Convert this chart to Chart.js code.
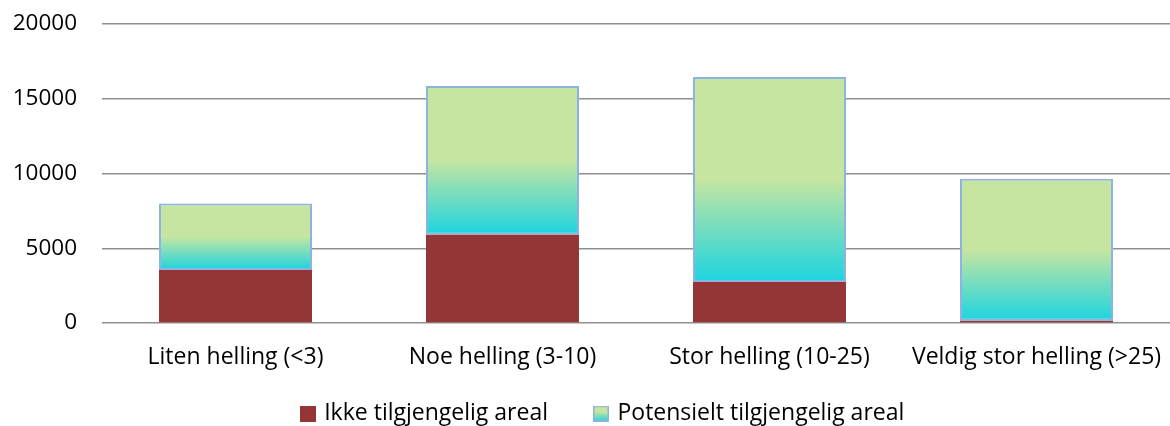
<!DOCTYPE html>
<html><head><meta charset="utf-8">
<script src="https://cdn.jsdelivr.net/npm/chart.js@4/dist/chart.umd.min.js"></script>
<style>html,body{margin:0;padding:0;background:#fff;}#wrap{width:1170px;height:426px;}</style>
</head><body><div id="wrap"><canvas id="c" width="1170" height="426"></canvas></div>
<script>
const categories = ["Liten helling (<3)", "Noe helling (3-10)", "Stor helling (10-25)", "Veldig stor helling (>25)"];
const ikkeTilgjengelig = [3550, 5900, 2750, 150];
const potensieltTilgjengelig = [4450, 9950, 13700, 9500];
const seriesNames = ["Ikke tilgjengelig areal", "Potensielt tilgjengelig areal"];
const yTicks = [0, 5000, 10000, 15000, 20000];

const RED = '#943635', CYAN = '#1dd4e0', GREEN = '#c5e5a1', BLUE = '#8db3e2';
const FONT = 'Open Sans';

function makeBox(kind) {
  const cv = document.createElement('canvas');
  cv.width = 16; cv.height = 16;
  const c = cv.getContext('2d');
  if (kind === 0) { c.fillStyle = RED; c.fillRect(0,0,16,16); }
  else {
    const g = c.createLinearGradient(0,16,0,0);
    g.addColorStop(0, CYAN); g.addColorStop(0.6, GREEN); g.addColorStop(1, GREEN);
    c.fillStyle = g; c.fillRect(0,0,16,16);
    c.strokeStyle = BLUE; c.lineWidth = 1.5; c.strokeRect(0.75,0.75,14.5,14.5);
  }
  return cv;
}
const boxes = [makeBox(0), makeBox(1)];

function gradFill(ctx) {
  const chart = ctx.chart;
  const y = chart.scales && chart.scales.y;
  if (!chart.chartArea || !y || ctx.dataIndex === undefined) return GREEN;
  const i = ctx.dataIndex;
  const base = ikkeTilgjengelig[i];
  const top = base + potensieltTilgjengelig[i];
  const yb = y.getPixelForValue(base), yt = y.getPixelForValue(top);
  const g = chart.ctx.createLinearGradient(0, yb, 0, yt);
  g.addColorStop(0, CYAN);
  g.addColorStop(0.5, GREEN);
  g.addColorStop(1, GREEN);
  return g;
}

const legendShift = {
  id: 'legendShift',
  afterLayout(chart) {
    const lg = chart.legend;
    if (lg && chart.chartArea) {
      const h = lg.height;
      lg.top = chart.chartArea.bottom + 31;
      lg.bottom = lg.top + h;
      lg.left += 37;
    }
  }
};

new Chart(document.getElementById('c'), {
  type: 'bar',
  data: {
    labels: categories,
    datasets: [
      { label: seriesNames[0], data: ikkeTilgjengelig, backgroundColor: RED, borderWidth: 0 },
      { label: seriesNames[1], data: potensieltTilgjengelig, backgroundColor: gradFill,
        borderColor: BLUE, borderWidth: 2, borderSkipped: false }
    ]
  },
  options: {
    responsive: false,
    animation: false,
    layout: { padding: { top: 24, left: 0, right: 0, bottom: -38 } },
    datasets: { bar: { categoryPercentage: 1, barPercentage: 0.573 } },
    scales: {
      x: {
        stacked: true,
        grid: { display: true, color: 'rgba(0,0,0,0)', drawOnChartArea: false, drawTicks: true, tickLength: 15, tickColor: 'rgba(0,0,0,0)' },
        border: { display: false },
        ticks: { color: '#000', font: { family: FONT, size: 23 }, padding: 6, maxRotation: 0, autoSkip: false },
        afterFit(s) { s.height = 60; }
      },
      y: {
        stacked: true,
        min: 0, max: 20000,
        afterBuildTicks(s) { s.ticks = yTicks.map(v => ({ value: v })); },
        grid: { color: '#8f8f8f', lineWidth: 1.5, drawTicks: true, tickLength: 25, tickColor: 'rgba(0,0,0,0)' },
        border: { display: false },
        ticks: { color: '#000', font: { family: FONT, size: 22.5 }, padding: 0, callback: v => String(v) },
        afterFit(s) { s.width = 102; }
      }
    },
    plugins: {
      tooltip: { enabled: false },
      legend: {
        position: 'bottom',
        labels: {
          color: '#000',
          font: { family: FONT, size: 23 },
          padding: 48,
          usePointStyle: true,
          pointStyleWidth: 10,
          generateLabels(chart) {
            return chart.data.datasets.map((d, i) => ({
              text: d.label, pointStyle: boxes[i], datasetIndex: i,
              fillStyle: 'rgba(0,0,0,0)', strokeStyle: 'rgba(0,0,0,0)', lineWidth: 0, hidden: false
            }));
          }
        }
      }
    }
  },
  plugins: [legendShift]
});
</script></body></html>
